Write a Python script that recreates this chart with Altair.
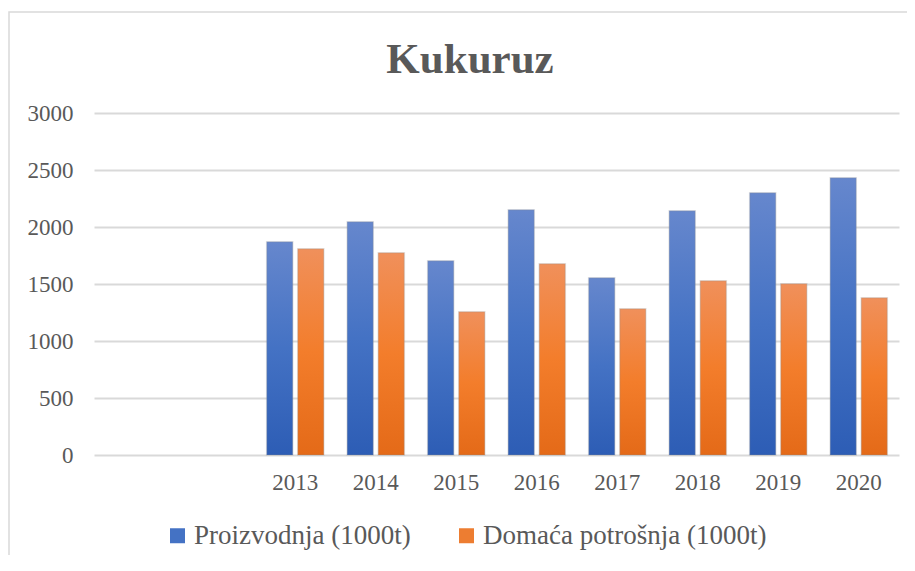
import altair as alt
import pandas as pd

# ---- data ----
years = ["2013", "2014", "2015", "2016", "2017", "2018", "2019", "2020"]
proizvodnja = [1871, 2047, 1704, 2152, 1555, 2143, 2301, 2433]
potrosnja = [1810, 1775, 1257, 1678, 1283, 1529, 1503, 1380]
series_names = ["Proizvodnja (1000t)", "Domaća potrošnja (1000t)"]
blank_categories = ["", " "]
y_ticks = [0, 500, 1000, 1500, 2000, 2500, 3000]
chart_title = ["Kukuruz"]

rows = []
for yr, p, c in zip(years, proizvodnja, potrosnja):
    rows.append({"year": yr, "series": series_names[0], "value": p})
    rows.append({"year": yr, "series": series_names[1], "value": c})
df = pd.DataFrame(rows)

FONT = "Liberation Serif"
TXT = "#595959"
GRID = "#d9d9d9"

blue_grad = alt.Gradient(
    gradient="linear", x1=0, x2=0, y1=0, y2=1,
    stops=[alt.GradientStop(color="#6687cd", offset=0),
           alt.GradientStop(color="#4472c4", offset=0.5),
           alt.GradientStop(color="#2d5db5", offset=1)])
orange_grad = alt.Gradient(
    gradient="linear", x1=0, x2=0, y1=0, y2=1,
    stops=[alt.GradientStop(color="#f0905b", offset=0),
           alt.GradientStop(color="#f37d2b", offset=0.5),
           alt.GradientStop(color="#e46a18", offset=1)])

x_enc = alt.X("year:N",
              scale=alt.Scale(domain=blank_categories + years,
                              paddingInner=0.29, paddingOuter=0.145),
              sort=None,
              axis=alt.Axis(title=None, domain=False, ticks=False, tickSize=0,
                            labelAngle=0, labelFont=FONT, labelFontSize=23,
                            labelColor=TXT, labelPadding=16, grid=False))
xoff_enc = alt.XOffset("series:N",
                       scale=alt.Scale(domain=series_names, paddingInner=0.16),
                       sort=series_names)
y_enc = alt.Y("value:Q",
              scale=alt.Scale(domain=[0, 3000], nice=False),
              axis=alt.Axis(title=None, values=y_ticks, format="d", domain=False,
                            ticks=False, tickSize=0, labelFont=FONT, labelFontSize=23,
                            labelColor=TXT, labelPadding=21, grid=True,
                            gridColor=GRID, gridWidth=1.8))

base = alt.Chart(df)

bars_p = base.transform_filter(alt.datum.series == series_names[0]).mark_bar(
    color=blue_grad, stroke="#8a8a8a", strokeOpacity=0.25, strokeWidth=1.5
).encode(x=x_enc, xOffset=xoff_enc, y=y_enc)

bars_c = base.transform_filter(alt.datum.series == series_names[1]).mark_bar(
    color=orange_grad, stroke="#8a8a8a", strokeOpacity=0.25, strokeWidth=1.5
).encode(x=x_enc, xOffset=xoff_enc, y=y_enc)

legend_layer = base.mark_point(opacity=0, shape="square", filled=True).encode(
    x=x_enc, y=y_enc,
    color=alt.Color("series:N",
                    scale=alt.Scale(domain=series_names, range=["#4472c4", "#ed7d31"]),
                    sort=series_names,
                    legend=alt.Legend(title=None, orient="none", legendX=70, legendY=409,
                                      direction="horizontal", symbolType="square",
                                      symbolSize=225, symbolOpacity=1, symbolStrokeWidth=0,
                                      labelFont=FONT, labelFontSize=27, labelColor=TXT,
                                      labelOffset=3, columnPadding=42, labelLimit=400)))

frame = alt.Chart(pd.DataFrame({"k": [0]})).mark_rect(
    fillOpacity=0, stroke=GRID, strokeWidth=1.5
).encode(x=alt.value(-85), y=alt.value(-101), x2=alt.value(900), y2=alt.value(600))

title_mark = alt.Chart(pd.DataFrame({"t": chart_title})).mark_text(
    font=FONT, fontSize=43, fontWeight="bold", color=TXT,
    align="center", baseline="alphabetic"
).encode(text="t:N", x=alt.value(376), y=alt.value(-40))

chart = alt.layer(frame, bars_p, bars_c, legend_layer, title_mark).properties(
    width=805, height=342,
    padding={"left": 86, "top": 105, "right": 8, "bottom": 100},
    autosize=alt.AutoSizeParams(type="none"),
).configure_view(stroke=None).configure_legend(
    labelFont=FONT, labelFontSize=27, labelColor=TXT
)

chart.save("out.html", embed_options={"renderer": "svg", "actions": False})
